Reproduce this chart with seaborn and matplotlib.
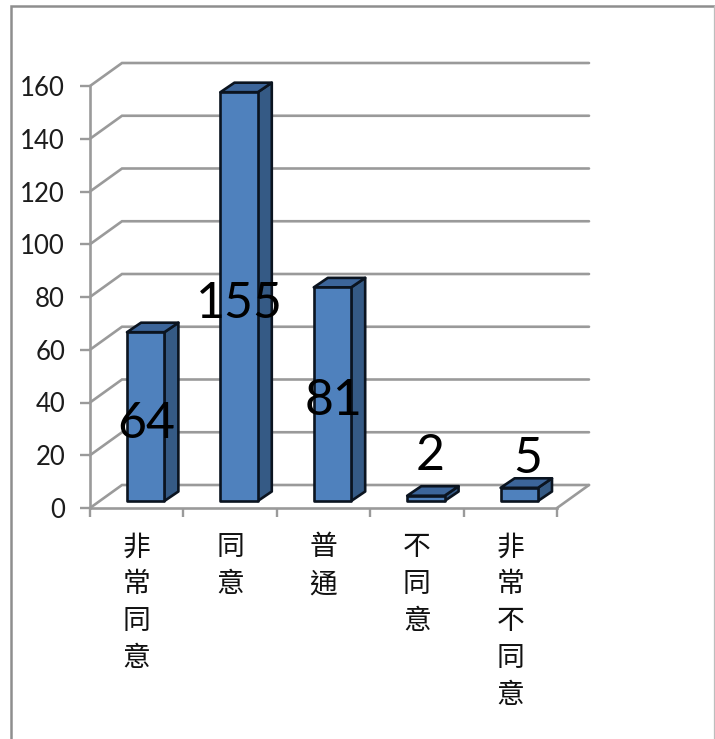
import matplotlib
matplotlib.use("Agg")
import matplotlib.pyplot as plt
from matplotlib.lines import Line2D
from matplotlib.patches import Polygon
from matplotlib.transforms import Affine2D
import pandas as pd
import seaborn as sns

categories = ["非常同意", "同意", "普通", "不同意", "非常不同意"]
counts = [64, 155, 81, 2, 5]
value_ticks = [0, 20, 40, 60, 80, 100, 120, 140, 160]

FRONT = "#4F81BD"
SIDE = "#355A85"
TOP = "#3C659A"
EDGE = "#0B1420"
GRAY = "#9A9A9A"

W, H = 715, 739
sns.set_theme(style="white")
plt.rcParams["font.family"] = ["Lato", "DejaVu Sans"]

fig = plt.figure(figsize=(W / 100, H / 100), dpi=100, facecolor="white")
ax = fig.add_axes([90 / W, 1 - 508 / H, (557 - 90) / W, (508 - 86) / H])
ax.patch.set_alpha(0)

df = pd.DataFrame({"category": categories, "count": counts})
sns.barplot(data=df, x="category", y="count", color=FRONT, saturation=1,
            width=0.40, ax=ax, zorder=3, edgecolor=EDGE, linewidth=1.9)
ax.set_xlim(-0.5, 4.5)
ax.set_ylim(0, 160)
ax.set_xlabel("")
ax.set_ylabel("")

# Oblique projection: depth of the chart floor and of each column, in data units
wall_dx, wall_dy = 32 / 93.4, 23 / 2.6375
bar_dx, bar_dy = 9 / 93.4, 7 / 2.6375
box_dx, box_dy = 14 / 93.4, 9.5 / 2.6375

# Side wall, back wall and floor lines
for v in value_ticks:
    ax.plot([-0.5, -0.5 + wall_dx, 4.5 + wall_dx], [v, v + wall_dy, v + wall_dy],
            color=GRAY, lw=1.9, zorder=1, clip_on=False, solid_joinstyle="miter")
ax.plot([4.5, 4.5 + wall_dx], [0, wall_dy], color=GRAY, lw=1.9, zorder=1, clip_on=False)

# Slide every column into the middle of the floor and give it a side and a top face
shift = Affine2D().translate(bar_dx, bar_dy) + ax.transData
for bar in ax.patches[:len(counts)]:
    x0, w, h = bar.get_x(), bar.get_width(), bar.get_height()
    x1 = x0 + w
    bar.set_transform(shift)
    bar.set_clip_on(False)
    bar.set_joinstyle("round")
    ax.add_patch(Polygon([(x1, 0), (x1 + box_dx, box_dy), (x1 + box_dx, h + box_dy), (x1, h)],
                         facecolor=SIDE, edgecolor=EDGE, lw=1.9, zorder=2.9,
                         transform=shift, clip_on=False, joinstyle="round"))
    ax.add_patch(Polygon([(x0, h), (x1, h), (x1 + box_dx, h + box_dy), (x0 + box_dx, h + box_dy)],
                         facecolor=TOP, edgecolor=EDGE, lw=1.9, zorder=2.9,
                         transform=shift, clip_on=False, joinstyle="round"))

# Value labels sit across the tall columns and float above the flat ones
flat_label_offsets = {2: (3, 28.5), 5: (6, 21)}
for i, n in enumerate(counts):
    anchor = n / 2 if n > 10 else n
    offset = flat_label_offsets.get(n, (0.5, -5))
    ax.annotate(str(n), (i, anchor), xytext=offset, textcoords="offset points",
                ha="center", va="center", fontsize=36, color="black", zorder=5,
                annotation_clip=False, xycoords=shift)

for s in ("top", "right"):
    ax.spines[s].set_visible(False)
for s in ("left", "bottom"):
    ax.spines[s].set_color(GRAY)
    ax.spines[s].set_linewidth(1.9)
    ax.spines[s].set_zorder(2)

ax.set_yticks(value_ticks)
ax.tick_params(axis="y", length=7, width=1.7, color=GRAY, pad=11, labelsize=18.5,
               labelcolor="#1c1c1c", left=True)
ax.set_xticks([i - 0.5 for i in range(len(categories) + 1)], [""] * (len(categories) + 1))
ax.tick_params(axis="x", which="major", length=6.5, width=1.7, color=GRAY, bottom=True)
ax.set_xticks(range(len(categories)), ["\n".join(c) for c in categories], minor=True)
ax.tick_params(axis="x", which="minor", length=0, pad=17.5, bottom=False)
for lab in ax.get_xticklabels(minor=True):
    lab.set_family(["Noto Sans CJK TC", "DejaVu Sans"])
    lab.set_fontsize(20)
    lab.set_color("#111111")
    lab.set_linespacing(1.3)
    lab.set_verticalalignment("top")

# Chart area border: open at the bottom edge
fx = lambda p: p / W
fy = lambda p: 1 - p / H
fig.add_artist(Line2D([fx(11), fx(11), fx(714)], [fy(H), fy(5.5), fy(5.5)],
                      color="#8E8E8E", lw=1.8, solid_joinstyle="miter"))
fig.add_artist(Line2D([fx(714), fx(714)], [fy(5.5), fy(H)], color="#BDBDBD", lw=0.9))

fig.savefig("out.png", dpi=100, facecolor="white")
